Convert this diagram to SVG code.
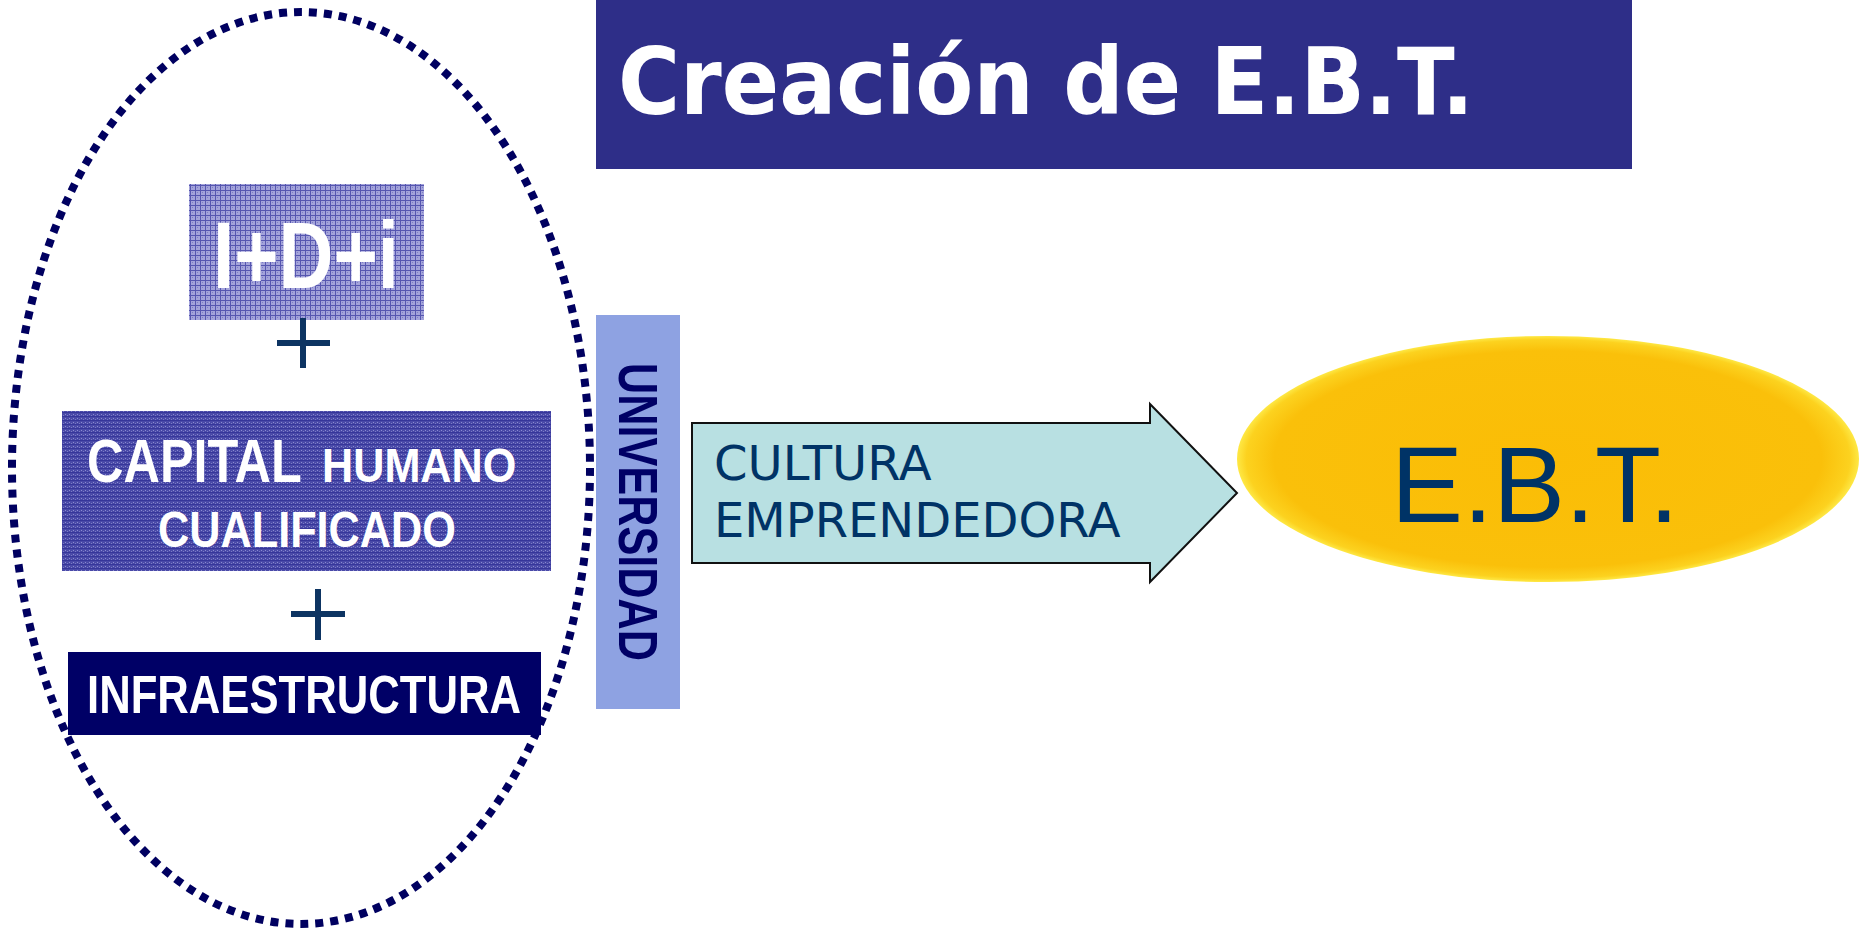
<svg xmlns="http://www.w3.org/2000/svg" width="1862" height="928" viewBox="0 0 1862 928">
  <style>
    .cond { font-family: "Liberation Sans", Arial, sans-serif; font-weight: bold; fill: #ffffff; }
    .plus { stroke: #0d3462; stroke-width: 6; fill: none; }
    .dark { fill: #003366; }
  </style>
  <defs>
    <pattern id="gridLight" width="5" height="5" patternUnits="userSpaceOnUse">
      <rect width="5" height="5" fill="#a3a3da"/>
      <rect x="0" y="0" width="5" height="1" fill="#5656b0"/>
      <rect x="0" y="0" width="1" height="5" fill="#5656b0"/>
      <rect x="2" y="2" width="1" height="1" fill="#7c7cc6"/>
    </pattern>
    <pattern id="gridDark" width="4" height="4" patternUnits="userSpaceOnUse">
      <rect width="4" height="4" fill="#4a4aa8"/>
      <rect x="0" y="0" width="4" height="1" fill="#36369a"/>
      <rect x="1" y="2" width="1" height="1" fill="#8a8ad0"/>
      <rect x="3" y="3" width="1" height="1" fill="#7a7ac4"/>
    </pattern>
    <radialGradient id="gold" cx="0.5" cy="0.5" r="0.5">
      <stop offset="0" stop-color="#fbbd06"/>
      <stop offset="0.88" stop-color="#fac00a"/>
      <stop offset="0.97" stop-color="#fcd21f"/>
      <stop offset="1" stop-color="#fee845"/>
    </radialGradient>
  </defs>

  <g id="title">
    <rect x="596" y="0" width="1036" height="169" fill="#2e2e88"/>
    <text x="618" y="114" font-family="DejaVu Sans, sans-serif" font-weight="bold" font-size="92" fill="#ffffff" textLength="856" lengthAdjust="spacingAndGlyphs">Creación de E.B.T.</text>
  </g>

  <g id="group-ellipse">
    <ellipse cx="301" cy="468" rx="289" ry="456" fill="none" stroke="#000060" stroke-width="8" stroke-dasharray="8 7"/>
  </g>

  <g id="idi">
    <rect x="189" y="184" width="235" height="136" fill="url(#gridLight)"/>
    <text class="cond" x="213" y="288" font-size="94" textLength="186" lengthAdjust="spacingAndGlyphs">I+D+i</text>
  </g>

  <g id="plus1">
    <path class="plus" d="M303,318 V368 M277,343 H330"/>
  </g>

  <g id="capital">
    <rect x="62" y="411" width="489" height="160" fill="url(#gridDark)"/>
    <text class="cond" transform="translate(87,482) scale(0.814,1)" font-size="62">CAPITAL</text>
    <text class="cond" transform="translate(322,482) scale(0.9,1)" font-size="48">HUMANO</text>
    <text class="cond" x="158" y="547" font-size="50" textLength="298" lengthAdjust="spacingAndGlyphs">CUALIFICADO</text>
  </g>

  <g id="plus2">
    <path class="plus" d="M318,589 V640 M291,614 H345"/>
  </g>

  <g id="infraestructura">
    <rect x="68" y="652" width="473" height="83" fill="#000066"/>
    <text class="cond" x="87" y="713" font-size="54" textLength="434" lengthAdjust="spacingAndGlyphs">INFRAESTRUCTURA</text>
  </g>

  <g id="universidad">
    <rect x="596" y="315" width="84" height="394" fill="#8ea2e2"/>
    <text transform="translate(619,363) rotate(90)" x="0" y="0" font-family="Liberation Sans, Arial, sans-serif" font-weight="bold" font-size="56" fill="#000066" textLength="298" lengthAdjust="spacingAndGlyphs">UNIVERSIDAD</text>
  </g>

  <g id="connectors">
    <g id="arrow-cultura">
      <path d="M692,423 L1150,423 L1150,404 L1237,493 L1150,582 L1150,563 L692,563 Z" fill="#b8e0e2" stroke="#111111" stroke-width="2"/>
      <text class="dark" x="714" y="480" font-family="DejaVu Sans, sans-serif" font-size="48">CULTURA</text>
      <text class="dark" x="714" y="537" font-family="DejaVu Sans, sans-serif" font-size="48">EMPRENDEDORA</text>
    </g>
  </g>

  <g id="ebt">
    <ellipse cx="1548" cy="459" rx="311" ry="123" fill="url(#gold)"/>
    <text class="dark" x="1391" y="522" font-family="Liberation Sans, Arial, sans-serif" font-size="108">E.B.T.</text>
  </g>
</svg>
